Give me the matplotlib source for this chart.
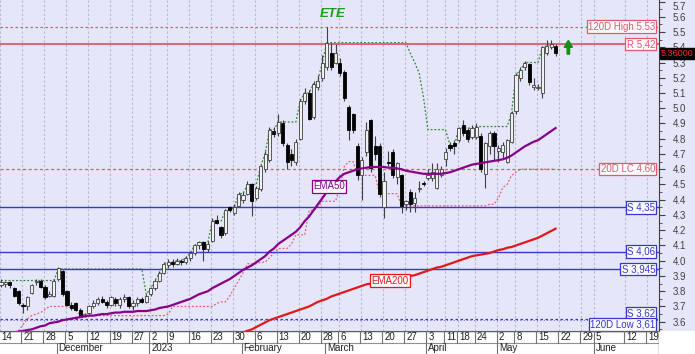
import matplotlib
matplotlib.use('Agg')
import matplotlib.pyplot as plt
import numpy as np
from matplotlib.patches import Rectangle

plt.rcParams['font.family'] = ['Liberation Sans', 'DejaVu Sans']

# ---------------- data (trading-day index 0 = 14 Nov 2022) ----------------
opens = [3.84,3.85,3.86,3.82,3.80,3.71,3.70,3.79,3.86,3.87,3.83,3.77,3.77,3.88,3.93,3.80,3.71,3.72,3.68,3.64,
         3.66,3.70,3.72,3.75,3.73,3.71,3.75,3.71,3.75,3.76,3.70,3.72,3.75,3.73,3.78,3.82,3.87,3.92,3.97,3.99,
         3.98,4.00,3.99,4.02,4.05,4.10,4.12,4.08,4.13,4.27,4.22,4.18,4.35,4.31,4.36,4.40,4.44,4.50,4.41,4.47,
         4.60,4.66,4.85,4.84,4.90,4.76,4.70,4.65,4.80,5.05,5.10,4.94,5.14,5.20,5.27,5.36,5.30,5.30,5.24,5.01,
         4.96,4.75,4.56,4.71,4.92,4.75,4.75,4.35,4.65,4.71,4.55,4.56,4.37,4.45,4.38,4.47,4.51,4.54,4.54,4.48,
         4.56,4.67,4.76,4.77,4.79,4.89,4.86,4.81,4.81,4.82,4.57,4.75,4.84,4.72,4.71,4.65,4.78,4.98,5.20,5.27,
         5.29,5.14,5.13,5.10,5.36,5.40,5.41]
highs = [3.88,3.87,3.87,3.83,3.81,3.72,3.77,3.85,3.88,3.88,3.84,3.80,3.88,3.96,3.94,3.81,3.73,3.73,3.69,3.66,
         3.71,3.74,3.76,3.77,3.74,3.77,3.76,3.76,3.78,3.77,3.74,3.76,3.76,3.78,3.83,3.88,3.93,3.99,4.01,4.01,
         4.02,4.01,4.03,4.06,4.11,4.13,4.13,4.13,4.28,4.30,4.23,4.34,4.36,4.37,4.45,4.45,4.52,4.51,4.49,4.63,
         4.72,4.88,4.88,4.96,4.92,4.77,4.73,4.80,5.06,5.13,5.12,5.18,5.22,5.35,5.53,5.43,5.42,5.33,5.25,5.02,
         4.97,4.77,4.68,4.91,4.93,4.82,4.77,4.58,4.72,4.73,4.65,4.57,4.40,4.47,4.45,4.52,4.52,4.60,4.64,4.64,
         4.62,4.74,4.78,4.79,4.88,4.92,4.87,4.89,4.90,4.84,4.78,4.85,4.85,4.76,4.78,4.80,4.98,5.23,5.27,5.31,
         5.30,5.20,5.16,5.41,5.45,5.45,5.42]
lows = [3.83,3.83,3.82,3.76,3.71,3.66,3.68,3.78,3.84,3.82,3.75,3.76,3.76,3.87,3.77,3.70,3.68,3.67,3.63,3.63,
        3.65,3.69,3.71,3.72,3.69,3.70,3.70,3.69,3.73,3.69,3.68,3.70,3.72,3.72,3.77,3.81,3.86,3.91,3.95,3.96,
        3.97,3.97,3.98,4.00,4.04,4.08,4.00,4.06,4.12,4.24,4.15,4.17,4.32,4.30,4.35,4.38,4.43,4.29,4.40,4.46,
        4.58,4.65,4.81,4.82,4.75,4.60,4.62,4.63,4.79,5.03,4.92,4.93,5.12,5.18,5.25,5.25,5.29,5.21,5.05,4.79,
        4.84,4.53,4.40,4.69,4.58,4.66,4.42,4.28,4.62,4.54,4.50,4.31,4.33,4.32,4.32,4.45,4.49,4.53,4.52,4.47,
        4.55,4.62,4.72,4.70,4.78,4.82,4.78,4.80,4.80,4.58,4.48,4.70,4.66,4.65,4.67,4.64,4.77,4.96,5.18,5.25,
        5.15,5.12,5.12,5.07,5.35,5.39,5.34]
closes = [3.86,3.86,3.84,3.77,3.72,3.70,3.76,3.84,3.87,3.83,3.76,3.78,3.87,3.95,3.78,3.71,3.69,3.68,3.64,3.65,
          3.70,3.72,3.75,3.73,3.71,3.76,3.72,3.75,3.76,3.70,3.72,3.75,3.73,3.77,3.82,3.87,3.92,3.98,3.99,3.98,
          4.00,3.99,4.02,4.05,4.10,4.12,4.08,4.11,4.26,4.25,4.17,4.33,4.33,4.35,4.44,4.43,4.50,4.39,4.48,4.62,
          4.70,4.86,4.83,4.91,4.77,4.65,4.66,4.78,5.05,5.10,4.93,5.16,5.18,5.30,5.43,5.27,5.36,5.23,5.07,4.86,
          4.86,4.56,4.66,4.86,4.61,4.70,4.44,4.52,4.64,4.56,4.64,4.36,4.39,4.37,4.41,4.48,4.50,4.56,4.58,4.60,
          4.60,4.71,4.74,4.75,4.87,4.84,4.80,4.87,4.88,4.60,4.77,4.84,4.75,4.74,4.76,4.79,4.97,5.22,5.25,5.30,
          5.17,5.15,5.14,5.40,5.41,5.42,5.36]

ema50 = [3.51,3.52,3.525,3.53,3.535,3.54,3.545,3.55,3.56,3.57,3.575,3.59,3.595,3.60,3.61,3.615,3.62,3.625,3.63,3.635,
         3.64,3.64,3.645,3.65,3.65,3.655,3.66,3.66,3.665,3.665,3.665,3.67,3.67,3.67,3.675,3.68,3.69,3.695,3.70,3.71,
         3.72,3.73,3.74,3.75,3.765,3.78,3.79,3.80,3.82,3.835,3.85,3.865,3.88,3.90,3.92,3.94,3.955,3.97,3.99,4.01,
         4.03,4.06,4.08,4.11,4.13,4.15,4.17,4.19,4.22,4.26,4.29,4.33,4.37,4.41,4.45,4.48,4.52,4.55,4.57,4.58,
         4.59,4.60,4.605,4.61,4.615,4.615,4.615,4.615,4.61,4.61,4.605,4.60,4.59,4.585,4.58,4.575,4.57,4.57,4.57,4.57,
         4.57,4.575,4.58,4.59,4.60,4.61,4.62,4.63,4.635,4.64,4.645,4.65,4.655,4.66,4.665,4.675,4.69,4.71,4.73,4.75,
         4.765,4.78,4.79,4.81,4.83,4.85,4.87]
ema200 = [np.nan]*55 + [3.53,3.54,3.55,3.565,3.58,3.595,3.61,3.62,3.63,3.64,3.65,3.66,3.67,3.68,3.69,
         3.70,3.715,3.73,3.74,3.75,3.765,3.775,3.785,3.795,3.805,3.815,3.825,3.835,3.845,3.85,3.855,3.86,3.865,3.87,3.875,
         3.88,3.885,3.89,3.90,3.905,3.915,3.925,3.935,3.945,3.955,3.96,3.97,3.98,3.99,4.00,4.01,4.02,4.03,4.035,4.04,
         4.045,4.05,4.06,4.07,4.075,4.085,4.09,4.10,4.11,4.12,4.13,4.14,4.15,4.165,4.18,4.195,4.21]

low_close_20 = ([np.nan]*4 + [3.54,3.58,3.62,3.64,3.65,3.66,3.68,3.70,3.70,3.70,3.70,3.70,3.69,3.68] + [3.64]*20 + [3.65]
                + [3.70]*10 + [3.72,3.73,3.73,3.77,3.82,3.87,3.92,3.98,3.98,3.98,3.99,3.99,4.02,4.05,4.08,4.08,4.08,4.11,
                4.17,4.17,4.17,4.33,4.33,4.35,4.39,4.39,4.39,4.39,4.48,4.62,4.65,4.65] + [4.56]*5 + [4.44]*5 + [4.36]*20
                + [4.37,4.37,4.41,4.48,4.50,4.56,4.58] + [4.60]*9)
high_close_20 = ([3.87]*13 + [3.945]*20 + [3.78,3.82,3.87,3.92,3.98,3.99,3.99,4.00,4.00,4.02,4.05,4.10,4.12,4.12,4.12,
                 4.26,4.26,4.26,4.33,4.33,4.35,4.44,4.44,4.50,4.50,4.50,4.62,4.70,4.86,4.86] + [4.91]*5
                 + [5.05,5.10,5.10,5.16,5.18,5.30] + [5.43]*19 + [5.36,5.30,5.23,5.07] + [4.86]*5 + [4.76,4.75]
                 + [4.87]*4 + [4.88]*8 + [4.97,5.22,5.25] + [5.30]*4 + [5.40,5.41,5.42,5.42])

level_values = [5.53, 5.42, 4.60, 4.35, 4.06, 3.945, 3.62, 3.61]
level_labels = ['120D High 5.53', 'R 5,42', '20D LC 4.60', 'S 4,35', 'S 4,06', 'S 3,945', 'S 3,62', '120D Low 3,61']

week_pos = [0,5,10,15,20,25,30,34,38,43,48,53,58,63,68,73,77,82,87,92,97,101,104,108,113,117,122,127,132,135,142,147]
week_lbl = ['14','21','28','5','12','19','27','2','9','16','23','30','6','13','20','28','6','13','20','27','3','11',
            '18','24','2','8','15','22','29','5','12','19']
month_pos = [13,34,55,74,97,113,135]
month_lbl = ['December','2023','February','March','April','May','June']
last_price_text = '5.36000'
title = 'ETE'

# ---------------- figure ----------------
W, H = 695, 354
fig = plt.figure(figsize=(W/100, H/100), dpi=100, facecolor='white')
BG = '#E6E6FA'
bottom_px = 23
right_px = 659
fig.patches.append(Rectangle((right_px/W, bottom_px/H), (W-right_px)/W, (H-bottom_px)/H,
                             transform=fig.transFigure, facecolor=BG, edgecolor='none', zorder=-10))
ax = fig.add_axes([0, bottom_px/H, right_px/W, (H-bottom_px)/H])
ax.set_facecolor(BG)
XL = (-0.23, 149.5)
YL = (3.539, 5.71)
ax.set_xlim(*XL)
ax.set_ylim(*YL)

# vertical grid
for p in week_pos:
    ax.axvline(p - 0.2, color='#B8B8CC', lw=0.8, ls=(0, (2, 2)), zorder=1)

x = np.arange(len(closes))
O = np.array(opens); Hh = np.array(highs); L = np.array(lows); C = np.array(closes)

# indicator lines (under the level lines)
ax.plot(x, low_close_20, color='#E06070', lw=0.9, ls=(0, (1.5, 1.5)), zorder=2)
ax.plot(x, high_close_20, color='#2E8B2E', lw=0.9, ls=(0, (1.5, 1.5)), zorder=2)

# horizontal level lines
red = '#E05A6A'
blue = '#3636D0'
ax.axhline(level_values[0], color=red, lw=0.9, ls=(0, (2, 2)), zorder=3)
ax.axhline(level_values[1], color=red, lw=1.3, zorder=3)
ax.axhline(level_values[2], color=red, lw=0.9, ls=(0, (2.5, 2)), zorder=3)
for v in level_values[3:6]:
    ax.axhline(v, color=blue, lw=1.0, zorder=3)
ax.axhline(level_values[6], color=blue, lw=0.9, ls=(0, (2, 2)), zorder=3)
ax.axhline(level_values[7], color=blue, lw=0.6, ls=(0, (1, 3)), zorder=3)

# candles
ax.vlines(x, L, Hh, color='#404040', lw=0.8, zorder=4)
up = C >= O
hgt = np.maximum(np.abs(C - O), 0.006)
ax.bar(x[up], hgt[up], bottom=O[up], width=0.72, color='#F0F0F0', edgecolor='#404040', lw=0.6, zorder=5)
ax.bar(x[~up], hgt[~up], bottom=C[~up], width=0.72, color='black', edgecolor='black', lw=0.6, zorder=5)

# EMAs
ax.plot(x, ema50, color='#880088', lw=1.6, zorder=6)
ax.plot(x, ema200, color='#E01818', lw=1.6, zorder=6)

box_fs = 7
def lbox(xx, yy, s, c, ha='right'):
    ax.text(xx, yy, s, ha=ha, va='center', fontsize=box_fs, color=c, zorder=8,
            bbox=dict(boxstyle='square,pad=0.12', fc='#FBFBFF', ec=c, lw=0.9))

xr = 148.6
lbox(xr, 5.536, level_labels[0], red)
lbox(xr, level_values[1], level_labels[1], red)
lbox(xr, level_values[2], level_labels[2], red)
lbox(xr, level_values[3], level_labels[3], blue)
lbox(xr, level_values[4], level_labels[4], blue)
lbox(xr, level_values[5], level_labels[5], blue)
lbox(xr, 3.655, level_labels[6], blue)
lbox(xr, 3.582, level_labels[7], blue)
lbox(74.6, 4.487, 'EMA50', '#880088', ha='center')
lbox(88.4, 3.87, 'EMA200', '#E01818', ha='center')

# title
ax.text(75.4, 5.62, title, ha='center', va='center', fontsize=9.5, color='#1E9A1E',
        fontweight='bold', fontstyle='italic', zorder=8)

# green arrow
ax.arrow(128.9, 5.355, 0, 0.09, width=0.55, head_width=1.9, head_length=0.045,
         length_includes_head=True, color='#149014', zorder=8)

# right axis
ax.yaxis.tick_right()
yt = np.round(np.arange(3.6, 5.71, 0.1), 1)
ax.set_yticks(yt)
ax.set_yticklabels(['%.1f' % v for v in yt], fontsize=7, color='#404040')
ax.set_yticks(np.arange(3.55, 5.71, 0.05), minor=True)
ax.tick_params(axis='y', which='major', length=4, width=0.8, color='#404040', pad=6)
ax.tick_params(axis='y', which='minor', length=2, width=0.6, color='#404040')
ax.get_yticklabels()[-1].set_va('top')
ax.set_xticks([])
for s in ['left', 'top']:
    ax.spines[s].set_visible(False)
ax.spines['right'].set_color('#404040')
ax.spines['bottom'].set_color('#606060')

# last price box
ax.text(1.003, (5.36 - YL[0]) / (YL[1] - YL[0]), last_price_text, transform=ax.transAxes, ha='left', va='center',
        fontsize=6.5, color='#FF2020', zorder=9, clip_on=False,
        bbox=dict(boxstyle='square,pad=0.15', fc='black', ec='black'))

# bottom date axis
bx = fig.add_axes([0, 0, right_px/W, bottom_px/H])
bx.set_xlim(*XL)
bx.set_ylim(0, 2)
bx.set_facecolor('white')
bx.axis('off')
bx.axhline(1.0, color='#909090', lw=0.8)
bx.axhline(2.0, color='#606060', lw=1.0)
for p, s in zip(week_pos, week_lbl):
    bx.plot([p - 0.35, p - 0.35], [1, 2], color='#707070', lw=0.8)
    bx.text(p + 0.1, 1.5, s, ha='left', va='center', fontsize=7, color='#202020')
for p, s in zip(month_pos, month_lbl):
    bx.plot([p - 0.35, p - 0.35], [0, 1], color='#707070', lw=0.8)
    bx.text(p + 0.1, 0.48, s, ha='left', va='center', fontsize=7, color='#202020')
bx.plot([XL[1], XL[1]], [0, 2], color='#606060', lw=1.0)

fig.savefig('out.png', dpi=100, facecolor='white')
